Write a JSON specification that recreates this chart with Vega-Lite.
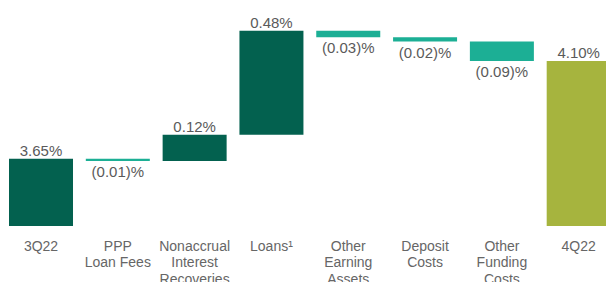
{
  "$schema": "https://vega.github.io/schema/vega-lite/v6.json",
  "width": 606,
  "height": 226,
  "autosize": {"type": "none"},
  "padding": {"left": 0, "top": 0, "right": 0, "bottom": 56},
  "background": "white",
  "config": {"view": {"stroke": null}, "font": "Liberation Sans"},
  "data": {
    "values": [
      {"cat": "3Q22", "start": 0, "end": 3.65, "label": "3.65%", "kind": "start"},
      {"cat": "PPP|Loan Fees", "start": 3.65, "end": 3.64, "label": "(0.01)%", "kind": "decrease"},
      {"cat": "Nonaccrual|Interest|Recoveries", "start": 3.64, "end": 3.76, "label": "0.12%", "kind": "increase"},
      {"cat": "Loans¹", "start": 3.76, "end": 4.24, "label": "0.48%", "kind": "increase"},
      {"cat": "Other|Earning|Assets", "start": 4.24, "end": 4.21, "label": "(0.03)%", "kind": "decrease"},
      {"cat": "Deposit|Costs", "start": 4.21, "end": 4.19, "label": "(0.02)%", "kind": "decrease"},
      {"cat": "Other|Funding|Costs", "start": 4.19, "end": 4.10, "label": "(0.09)%", "kind": "decrease"},
      {"cat": "4Q22", "start": 0, "end": 4.10, "label": "4.10%", "kind": "end"}
    ]
  },
  "encoding": {
    "x": {
      "field": "cat",
      "type": "nominal",
      "sort": null,
      "scale": {"range": [2.6, 617.1], "paddingInner": 0.1668, "paddingOuter": 0.0834},
      "axis": {
        "title": null,
        "domain": false,
        "ticks": false,
        "labelAngle": 0,
        "labelFontSize": 14,
        "labelColor": "#666666",
        "labelPadding": 13,
        "labelLineHeight": 16.7,
        "labelBaseline": "top",
        "labelOverlap": false,
        "labelBound": false,
        "labelExpr": "split(datum.label, '|')"
      }
    }
  },
  "layer": [
    {
      "mark": {"type": "bar"},
      "encoding": {
        "y": {"field": "start", "type": "quantitative", "scale": {"domain": [3.34, 4.3815], "clamp": true, "zero": false, "nice": false}, "axis": null},
        "y2": {"field": "end"},
        "color": {
          "field": "kind",
          "type": "nominal",
          "scale": {"domain": ["start", "increase", "decrease", "end"], "range": ["#03614f", "#03614f", "#1caf95", "#a6b43e"]},
          "legend": null
        }
      }
    },
    {
      "transform": [{"filter": "datum.kind != 'decrease'"}],
      "mark": {"type": "text", "baseline": "alphabetic", "dy": -3, "fontSize": 15, "color": "#5a5a5a"},
      "encoding": {
        "y": {"field": "end", "type": "quantitative"},
        "text": {"field": "label"}
      }
    },
    {
      "transform": [{"filter": "datum.kind == 'decrease'"}],
      "mark": {"type": "text", "baseline": "alphabetic", "dy": 16, "fontSize": 15, "color": "#5a5a5a"},
      "encoding": {
        "y": {"field": "end", "type": "quantitative"},
        "text": {"field": "label"}
      }
    }
  ]
}
